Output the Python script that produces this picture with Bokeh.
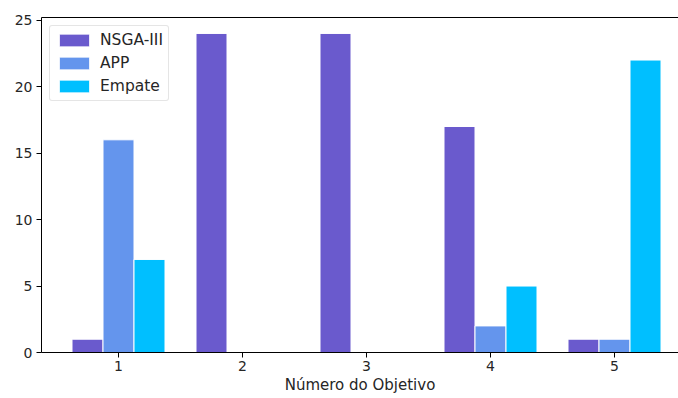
from bokeh.plotting import figure
from bokeh.models import Range1d, LinearAxis, FixedTicker, Legend, LegendItem
from bokeh.embed import file_html
from bokeh.resources import INLINE

objectives = [1, 2, 3, 4, 5]
nsga3 = [1, 24, 24, 17, 1]
app = [16, 0, 0, 2, 1]
empate = [7, 0, 0, 5, 22]
series_names = ["NSGA-III", "APP", "Empate"]
colors = ["#6A5ACD", "#6495ED", "#00BFFF"]
x_ticks = [1, 2, 3, 4, 5]
y_ticks = [0, 5, 10, 15, 20, 25]

FONT = "DejaVu Sans"
TXT = "#262626"

p = figure(width=678, height=398, output_backend="svg", toolbar_location=None,
           x_range=Range1d(0.379, 5.516), y_range=Range1d(0, 25.2),
           min_border_left=41, min_border_right=0, min_border_top=17, min_border_bottom=46)
p.outline_line_color = None
p.xgrid.visible = False
p.ygrid.visible = False
p.background_fill_color = "white"

width = 0.25
offsets = [-0.25, 0.0, 0.25]
renderers = []
for vals, off, col in zip([nsga3, app, empate], offsets, colors):
    r = p.vbar(x=[o + off for o in objectives], top=vals, width=width,
               fill_color=col, line_color="white", line_width=1)
    renderers.append(r)

for ax in (p.xaxis[0], p.yaxis[0]):
    ax.axis_line_color = "black"
    ax.axis_line_width = 1
    ax.major_tick_line_color = "black"
    ax.major_tick_out = 5
    ax.major_tick_in = 0
    ax.minor_tick_line_color = None
    ax.major_label_text_font = FONT
    ax.major_label_text_font_size = "14px"
    ax.major_label_text_color = TXT

p.xaxis[0].ticker = FixedTicker(ticks=x_ticks)
p.yaxis[0].ticker = FixedTicker(ticks=y_ticks)
p.xaxis[0].axis_label = "Número do Objetivo"
p.xaxis[0].axis_label_text_font = FONT
p.xaxis[0].axis_label_text_font_size = "15px"
p.xaxis[0].axis_label_text_font_style = "normal"
p.xaxis[0].axis_label_text_color = TXT
p.xaxis[0].axis_label_standoff = 2
p.xaxis[0].major_label_standoff = 3
p.yaxis[0].major_label_standoff = 4

top = LinearAxis(ticker=FixedTicker(ticks=[]), major_label_text_font_size="0px",
                 major_tick_line_color=None, minor_tick_line_color=None,
                 axis_line_color="black", axis_line_width=1)
p.add_layout(top, "above")

legend = Legend(items=[LegendItem(label=n, renderers=[r]) for n, r in zip(series_names, renderers)],
                location="top_left")
legend.margin = 8
legend.padding = 5
legend.spacing = 5
legend.glyph_width = 38
legend.glyph_height = 16
legend.label_height = 16
legend.label_text_font = FONT
legend.label_text_font_size = "15.5px"
legend.label_text_color = TXT
legend.label_standoff = 7
legend.border_line_color = "#cccccc"
legend.border_line_width = 1
legend.border_radius = 3
legend.background_fill_alpha = 0.8
p.add_layout(legend)

open("out.html", "w").write(file_html(p, INLINE))
